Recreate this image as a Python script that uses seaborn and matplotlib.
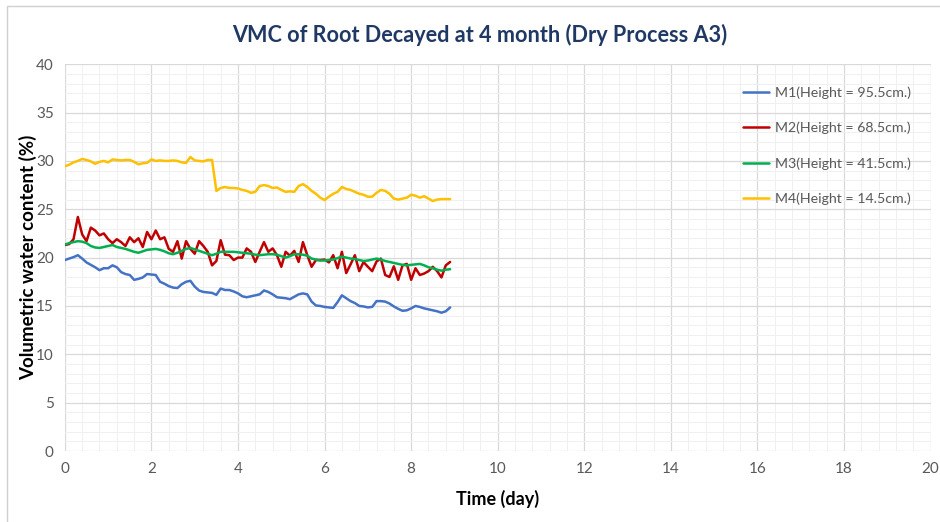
import numpy as np
import pandas as pd
import seaborn as sns
import matplotlib.pyplot as plt
from matplotlib.ticker import MultipleLocator
from matplotlib.patches import Rectangle

# time axis (day), readings every 0.1 day
time_day = np.round(np.arange(0, 9.0, 0.1), 1)

m1 = [19.75, 19.9, 20.05, 20.25, 19.9, 19.5, 19.25, 19.0, 18.7, 18.9,
      18.9, 19.2, 19.0, 18.5, 18.3, 18.2, 17.7, 17.8, 17.95, 18.3,
      18.25, 18.2, 17.5, 17.3, 17.05, 16.9, 16.85, 17.25, 17.5, 17.6,
      17.0, 16.6, 16.45, 16.4, 16.35, 16.15, 16.8, 16.65, 16.65, 16.5,
      16.3, 16.0, 15.9, 16.0, 16.1, 16.2, 16.6, 16.45, 16.2, 15.9,
      15.85, 15.8, 15.7, 15.95, 16.2, 16.3, 16.2, 15.45, 15.05, 15.0,
      14.9, 14.85, 14.8, 15.4, 16.1, 15.8, 15.5, 15.3, 15.0, 14.95,
      14.85, 14.9, 15.5, 15.5, 15.45, 15.25, 14.95, 14.7, 14.5, 14.55,
      14.75, 15.0, 14.9, 14.75, 14.65, 14.55, 14.45, 14.3, 14.45, 14.85]

m2 = [21.3, 21.4, 21.9, 24.2, 22.4, 21.7, 23.1, 22.8, 22.3, 22.5,
      21.9, 21.5, 21.9, 21.6, 21.2, 22.1, 21.6, 22.0, 21.1, 22.65,
      21.9, 22.8, 21.9, 22.1, 20.9, 20.6, 21.7, 19.9, 21.7, 20.9,
      20.4, 21.7, 21.2, 20.6, 19.2, 19.65, 21.8, 20.3, 20.25, 19.75,
      20.0, 20.0, 20.95, 20.6, 19.55, 20.6, 21.6, 20.6, 20.95, 20.25,
      19.05, 20.6, 20.2, 20.7, 19.55, 21.6, 20.25, 19.05, 19.75, 19.75,
      19.8, 19.5, 20.25, 18.9, 20.6, 18.4, 19.3, 20.25, 18.6, 19.55,
      19.05, 18.6, 19.6, 19.9, 18.2, 18.0, 19.1, 17.7, 19.2, 19.35,
      17.7, 18.9, 18.2, 18.35, 18.6, 19.05, 18.6, 17.95, 19.2, 19.55]

m3 = [21.35, 21.5, 21.6, 21.7, 21.65, 21.5, 21.2, 21.05, 21.0, 21.1,
      21.2, 21.3, 21.1, 21.0, 20.9, 20.75, 20.6, 20.5, 20.65, 20.8,
      20.85, 20.9, 20.8, 20.65, 20.45, 20.35, 20.5, 20.7, 20.9, 21.0,
      20.85, 20.7, 20.55, 20.4, 20.25, 20.4, 20.6, 20.6, 20.6, 20.6,
      20.55, 20.5, 20.45, 20.4, 20.3, 20.25, 20.3, 20.35, 20.35, 20.3,
      20.15, 20.0, 20.15, 20.35, 20.35, 20.3, 20.2, 19.9, 19.8, 19.7,
      19.7, 19.75, 19.8, 19.95, 20.1, 20.0, 19.9, 19.85, 19.75, 19.65,
      19.7, 19.8, 19.9, 19.8, 19.65, 19.55, 19.45, 19.35, 19.25, 19.2,
      19.25, 19.3, 19.35, 19.2, 19.0, 18.9, 18.75, 18.65, 18.75, 18.8]

m4 = [29.45, 29.6, 29.85, 30.0, 30.2, 30.1, 29.95, 29.7, 29.9, 30.0,
      29.85, 30.15, 30.1, 30.05, 30.1, 30.1, 29.9, 29.65, 29.75, 29.8,
      30.15, 30.0, 30.05, 30.0, 30.0, 30.05, 30.0, 29.85, 29.8, 30.4,
      30.05, 30.0, 29.95, 30.1, 30.1, 26.9, 27.2, 27.3, 27.2, 27.2,
      27.15, 27.0, 26.9, 26.7, 26.8, 27.4, 27.5, 27.4, 27.2, 27.25,
      27.0, 26.8, 26.85, 26.8, 27.4, 27.6, 27.3, 26.9, 26.6, 26.2,
      25.95, 26.3, 26.6, 26.8, 27.3, 27.1, 27.0, 26.8, 26.6, 26.5,
      26.3, 26.3, 26.7, 27.0, 26.9, 26.6, 26.1, 26.0, 26.1, 26.2,
      26.5, 26.4, 26.2, 26.35, 26.1, 25.85, 26.0, 26.05, 26.05, 26.05]

labels = ["M1(Height = 95.5cm.)", "M2(Height = 68.5cm.)",
          "M3(Height = 41.5cm.)", "M4(Height = 14.5cm.)"]
colors = ["#4472C4", "#C00000", "#00B050", "#FFC000"]

df = pd.concat([
    pd.DataFrame({"time": time_day, "vmc": vals, "sensor": lab})
    for vals, lab in zip([m1, m2, m3, m4], labels)
])

sns.set_style("white")
plt.rcParams["font.family"] = ["Lato", "DejaVu Sans"]

fig = plt.figure(figsize=(9.4, 5.22), dpi=100)
ax = fig.add_axes([0.069, 0.136, 0.921, 0.741])

sns.lineplot(data=df, x="time", y="vmc", hue="sensor", hue_order=labels,
             palette=colors, linewidth=1.8, ax=ax, zorder=3)

ax.set_xlim(0, 20)
ax.set_ylim(0, 40)
ax.xaxis.set_major_locator(MultipleLocator(2))
ax.xaxis.set_minor_locator(MultipleLocator(0.4))
ax.yaxis.set_major_locator(MultipleLocator(5))
ax.yaxis.set_minor_locator(MultipleLocator(1))
ax.grid(which="major", color="#D9D9D9", linewidth=0.9)
ax.grid(which="minor", color="#F0F0F0", linewidth=0.7)
ax.set_axisbelow(True)
for s in ax.spines.values():
    s.set_visible(False)
ax.tick_params(which="both", length=0, colors="#595959", labelsize=11)
ax.tick_params(axis="x", pad=8)
ax.tick_params(axis="y", pad=8)

ax.set_xlabel("Time (day)", fontsize=13, fontweight="bold", color="black", labelpad=10)
ax.set_ylabel("Volumetric water content (%)", fontsize=13.5, fontweight="bold",
              color="black", labelpad=-1)
fig.suptitle("VMC of Root Decayed at 4 month (Dry Process A3)", x=0.51, y=0.955,
             fontsize=15.6, fontweight="bold", color="#1F3864")

leg = ax.legend(loc="upper right", bbox_to_anchor=(0.992, 0.975), frameon=False,
                fontsize=10.2, labelspacing=1.6, handlelength=1.8, handletextpad=0.45)
for t in leg.get_texts():
    t.set_color("#595959")

fig.patches.append(Rectangle((0.0075, -0.05), 1.1, 1.038, transform=fig.transFigure,
                             fill=False, edgecolor="#D0D0D0", linewidth=1))

fig.savefig("out.png", dpi=100)
